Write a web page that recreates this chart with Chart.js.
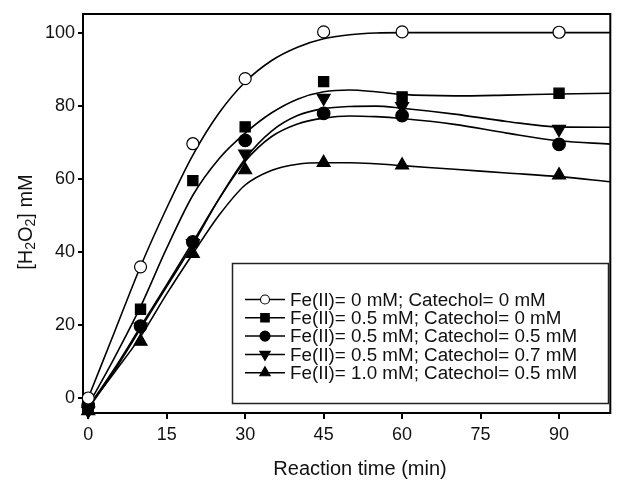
<!DOCTYPE html>
<html>
<head>
<meta charset="utf-8">
<script src="https://cdn.jsdelivr.net/npm/chart.js@4.4.1/dist/chart.umd.min.js"></script>
<style>
  html, body { margin: 0; padding: 0; background: #fff; }
</style>
</head>
<body>
<canvas id="myChart" width="619" height="481"></canvas>
<script>
// sampling times (min) and measured [H2O2] (mM)
const times = [0, 10, 20, 30, 45, 60, 90];
const fe0cat0 = [0, 35.9, 69.6, 87.4, 100.2, 100.2, 100.1];
const fe05cat0 = [-2.5, 24.3, 59.5, 74.2, 86.6, 82.4, 83.4];
const fe05cat05 = [-2, 19.7, 42.7, 70.5, 77.9, 77.3, 69.4];
const fe05cat07 = [-3.5, 19.5, 42.3, 66.8, 82.1, 79.8, 73.6];
const fe10cat05 = [-3.5, 15.5, 39.5, 62.4, 64.4, 63.7, 61];

// fitted curves
const fitTimes = [0, 5, 10, 15, 20, 25, 30, 35, 40, 45, 50, 55, 60, 70, 80, 90, 99.8];
const fit1 = [0, 18, 36, 52, 66.5, 78, 86.5, 92.3, 96, 98.3, 99.4, 99.9, 100, 100, 100, 100, 100];
const fit2 = [-2, 11, 25, 41, 55.5, 65.5, 72.5, 78, 81.8, 83.8, 84.3, 83.8, 83.1, 82.7, 82.9, 83.2, 83.4];
const fit3 = [-2.5, 8, 19.5, 31, 42.7, 54.5, 64.8, 71.5, 75, 76.6, 77.2, 77, 76.5, 74.9, 72.5, 70.4, 69.5];
const fit4 = [-3, 7.5, 19, 30.5, 42, 54.5, 65.5, 73, 77.3, 79.2, 79.8, 79.9, 79.3, 77.7, 75.7, 74.2, 74.1];
const fit5 = [-2.5, 7, 16.8, 28.5, 39.5, 50, 58.3, 62.3, 64, 64.4, 64.4, 64.1, 63.6, 62.6, 61.6, 60.6, 59.2];

const labels = [
    'Fe(II)= 0 mM; Catechol= 0 mM',
    'Fe(II)= 0.5 mM; Catechol= 0 mM',
    'Fe(II)= 0.5 mM; Catechol= 0.5 mM',
    'Fe(II)= 0.5 mM; Catechol= 0.7 mM',
    'Fe(II)= 1.0 mM; Catechol= 0.5 mM'
];

const xTicks = [0, 15, 30, 45, 60, 75, 90];
const yTicks = [0, 20, 40, 60, 80, 100];

const series = [fe0cat0, fe05cat0, fe05cat05, fe05cat07, fe10cat05];
const fits = [fit1, fit2, fit3, fit4, fit5];
const markers = [
    {pointStyle: 'circle', rotation: 0, radius: 6, fill: '#fff', legendRadius: 4.5},
    {pointStyle: 'rect', rotation: 0, radius: 7.2, fill: '#000', legendRadius: 6},
    {pointStyle: 'circle', rotation: 0, radius: 6.3, fill: '#000', legendRadius: 5},
    {pointStyle: 'triangle', rotation: 180, radius: 7.5, fill: '#000', legendRadius: 6},
    {pointStyle: 'triangle', rotation: 0, radius: 7.5, fill: '#000', legendRadius: 6}
];

function toPoints(xs, ys) {
    return xs.map((x, i) => ({x: x, y: ys[i]}));
}

const datasets = [];
fits.forEach((f, i) => {
    datasets.push({
        label: 'fit ' + i,
        data: toPoints(fitTimes, f),
        showLine: true,
        borderColor: '#000',
        borderWidth: 1.6,
        pointRadius: 0,
        cubicInterpolationMode: 'monotone',
        order: 2
    });
});
series.forEach((s, i) => {
    const m = markers[i];
    datasets.push({
        label: labels[i],
        data: toPoints(times, s),
        showLine: false,
        pointStyle: m.pointStyle,
        rotation: m.rotation,
        pointRadius: m.radius,
        backgroundColor: m.fill,
        borderColor: '#000',
        borderWidth: 1.2,
        clip: false,
        order: 1
    });
});

// box round the plot area, axis titles and the boxed legend
const decorations = {
    id: 'decorations',
    beforeDatasetsDraw(chart) {
        const {ctx, chartArea: a} = chart;
        ctx.save();
        ctx.strokeStyle = '#000';
        ctx.lineWidth = 2;
        ctx.strokeRect(a.left, a.top, a.right - a.left, a.bottom - a.top);
        ctx.restore();
    },
    afterDraw(chart) {
        const {ctx} = chart;
        ctx.save();
        ctx.fillStyle = '#111';

        // x title
        ctx.font = '20px Arial, "Liberation Sans"';
        ctx.textAlign = 'center';
        ctx.textBaseline = 'middle';
        ctx.fillText('Reaction time (min)', 360, 469);

        // y title with subscripts
        const parts = [['[H', false], ['2', true], ['O', false], ['2', true], ['] mM', false]];
        const big = '20px Arial, "Liberation Sans"';
        const small = '14px Arial, "Liberation Sans"';
        let total = 0;
        parts.forEach(p => { ctx.font = p[1] ? small : big; total += ctx.measureText(p[0]).width; });
        ctx.translate(26, 222);
        ctx.rotate(-Math.PI / 2);
        ctx.textAlign = 'left';
        ctx.textBaseline = 'middle';
        let px = -total / 2;
        parts.forEach(p => {
            ctx.font = p[1] ? small : big;
            ctx.fillText(p[0], px, p[1] ? 5 : 0);
            px += ctx.measureText(p[0]).width;
        });
        ctx.setTransform(1, 0, 0, 1, 0, 0);

        // legend
        ctx.strokeStyle = '#222';
        ctx.lineWidth = 1.5;
        ctx.strokeRect(232.5, 263.5, 376, 140);
        ctx.font = '18.8px Arial, "Liberation Sans"';
        ctx.textAlign = 'left';
        ctx.textBaseline = 'middle';
        labels.forEach((lab, i) => {
            const y = 299.5 + i * 18.3;
            const m = markers[i];
            ctx.strokeStyle = '#000';
            ctx.lineWidth = 1.5;
            ctx.beginPath();
            ctx.moveTo(245, y);
            ctx.lineTo(285, y);
            ctx.stroke();
            ctx.fillStyle = m.fill;
            ctx.lineWidth = 1.1;
            Chart.helpers.drawPoint(ctx, {
                pointStyle: m.pointStyle,
                rotation: m.rotation,
                radius: m.legendRadius,
                borderWidth: 1.1
            }, 265, y);
            ctx.fillStyle = '#111';
            ctx.fillText(lab, 290, y + 1);
        });
        ctx.restore();
    }
};

const ctx = document.getElementById('myChart');

new Chart(ctx, {
    type: 'scatter',
    data: {datasets: datasets},
    plugins: [decorations],
    options: {
        responsive: false,
        animation: false,
        events: [],
        layout: {padding: {top: 14, right: 1, left: 0, bottom: 0}},
        plugins: {
            legend: {display: false},
            tooltip: {enabled: false}
        },
        scales: {
            x: {
                type: 'linear',
                min: -1,
                max: 99.8,
                afterBuildTicks: (scale) => { scale.ticks = xTicks.map(v => ({value: v})); },
                afterFit: (scale) => { scale.height = 68; },
                grid: {drawOnChartArea: false, drawTicks: true, tickLength: 6, color: '#000', lineWidth: 2},
                border: {display: true, color: '#000', width: 2},
                ticks: {color: '#111', font: {size: 18, family: 'Arial, "Liberation Sans"'}, padding: 5, maxRotation: 0}
            },
            y: {
                type: 'linear',
                min: -4.1,
                max: 105.1,
                afterBuildTicks: (scale) => { scale.ticks = yTicks.map(v => ({value: v})); },
                afterFit: (scale) => { scale.width = 83; },
                grid: {drawOnChartArea: false, drawTicks: true, tickLength: 5, color: '#000', lineWidth: 2},
                border: {display: true, color: '#000', width: 2},
                ticks: {color: '#111', font: {size: 18, family: 'Arial, "Liberation Sans"'}, padding: 3}
            }
        }
    }
});
</script>
</body>
</html>
